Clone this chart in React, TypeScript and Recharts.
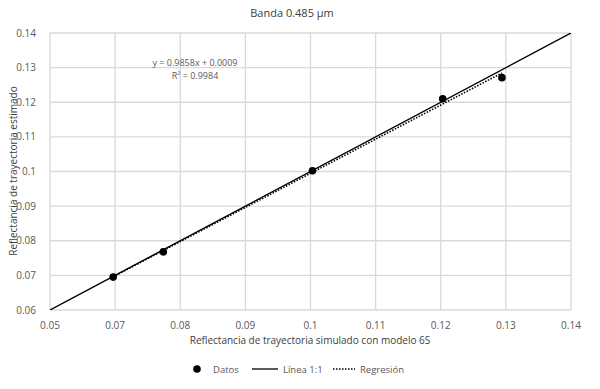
import React from 'react'
import { ComposedChart, Scatter, Line, XAxis, YAxis, CartesianGrid } from 'recharts'

// reference data
const simX = [0.0697, 0.0774, 0.1003, 0.1203, 0.1294]
const estY = [0.0695, 0.0768, 0.1002, 0.121, 0.1271]

const xTicks = [0.06, 0.07, 0.08, 0.09, 0.1, 0.11, 0.12, 0.13, 0.14]
const xTickLabels = ['0.05', '0.07', '0.08', '0.09', '0.1', '0.11', '0.12', '0.13', '0.14']
const yTicks = [0.06, 0.07, 0.08, 0.09, 0.1, 0.11, 0.12, 0.13, 0.14]

const slope = 0.9858
const intercept = 0.0009

const points = simX.map((x, i) => ({ x, y: estY[i] }))
const oneToOne = [
    { x: 0.06, y: 0.06 },
    { x: 0.14, y: 0.14 },
]
const regLine = [simX[0], simX[simX.length - 1]].map((x) => ({ x, y: slope * x + intercept }))

const FONT = '"Open Sans", "Noto Sans", sans-serif'
const GREY = '#595959'

const fmt = (v: number) => String(Number(v.toFixed(2)))

const App: React.FC = () => {
    return (
        <div style={{ position: 'absolute', left: 0, top: 0, width: 600, height: 389, background: '#fff', fontFamily: FONT }}>
            <div style={{ position: 'absolute', left: 0, width: 584, top: 5, textAlign: 'center', fontSize: 11, color: '#404040' }}>
                Banda 0.485 µm
            </div>

            <ComposedChart
                width={600}
                height={389}
                margin={{ top: 33, right: 29, bottom: 59, left: 0 }}
            >
                <CartesianGrid stroke="#d9d9d9" strokeWidth={1.3} />
                <XAxis
                    type="number"
                    dataKey="x"
                    domain={[0.06, 0.14]}
                    ticks={xTicks}
                    tickFormatter={(_v: number, i: number) => xTickLabels[i]}
                    axisLine={false}
                    tickLine={false}
                    tick={{ fill: GREY, fontSize: 10, fontFamily: FONT }}
                    tickMargin={6}
                    height={20}
                    allowDataOverflow
                />
                <YAxis
                    type="number"
                    dataKey="y"
                    domain={[0.06, 0.14]}
                    ticks={yTicks}
                    tickFormatter={fmt}
                    axisLine={false}
                    tickLine={false}
                    tick={{ fill: GREY, fontSize: 10, fontFamily: FONT }}
                    tickMargin={8}
                    width={50}
                    allowDataOverflow
                />
                <Line
                    data={oneToOne}
                    dataKey="y"
                    stroke="#000"
                    strokeWidth={1.4}
                    dot={false}
                    activeDot={false}
                    isAnimationActive={false}
                />
                <Line
                    data={regLine}
                    dataKey="y"
                    stroke="#000"
                    strokeWidth={1.6}
                    strokeDasharray="1.5 1.5"
                    dot={false}
                    activeDot={false}
                    isAnimationActive={false}
                />
                <Scatter
                    data={points}
                    dataKey="y"
                    fill="#000"
                    isAnimationActive={false}
                    shape={(p: any) => <circle cx={p.cx} cy={p.cy} r={3.8} fill="#000" />}
                />
            </ComposedChart>

            <div style={{ position: 'absolute', left: 145, width: 100, top: 56, textAlign: 'center', fontSize: 9, lineHeight: '13px', color: GREY }}>
                <div>y = 0.9858x + 0.0009</div>
                <div>R² = 0.9984</div>
            </div>

            <div
                style={{
                    position: 'absolute',
                    left: 13,
                    top: 171,
                    transform: 'translate(-50%, -50%) rotate(-90deg)',
                    whiteSpace: 'nowrap',
                    fontSize: 10,
                    lineHeight: '12px',
                    color: '#404040',
                }}
            >
                Reflectancia de trayectoria estimado
            </div>
            <div style={{ position: 'absolute', left: 0, width: 620, top: 333, textAlign: 'center', fontSize: 10, color: '#404040' }}>
                Reflectancia de trayectoria simulado con modelo 6S
            </div>

            <svg style={{ position: 'absolute', left: 0, top: 360 }} width={600} height={20}>
                <circle cx={197} cy={9} r={3.8} fill="#000" />
                <text x={213} y={12.5} fontSize={9.5} fill={GREY} fontFamily={FONT}>Datos</text>
                <line x1={252} x2={278} y1={9} y2={9} stroke="#000" strokeWidth={1.3} />
                <text x={283} y={12.5} fontSize={9.5} fill={GREY} fontFamily={FONT}>Línea 1:1</text>
                <line x1={333} x2={355} y1={9} y2={9} stroke="#000" strokeWidth={1.5} strokeDasharray="1.5 1.5" />
                <text x={360} y={12.5} fontSize={9.5} fill={GREY} fontFamily={FONT}>Regresión</text>
            </svg>
        </div>
    )
}

export default App
